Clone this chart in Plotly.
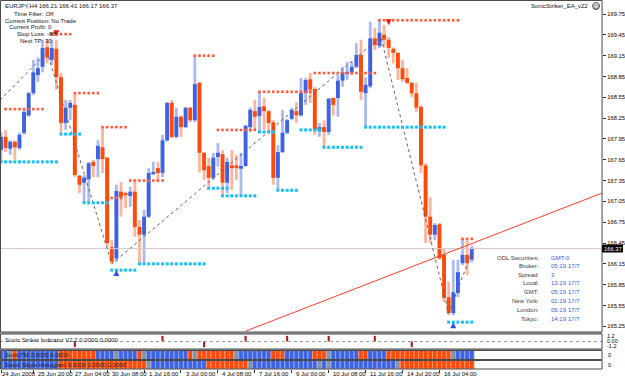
import plotly.graph_objects as go

# ---------------- data ----------------
opens = [167.79,167.98,167.81,167.91,167.82,168.04,168.29,168.61,168.87,168.99,
         169.27,169.09,169.25,168.84,168.18,168.40,168.44,167.42,167.32,167.37,
         167.62,167.66,167.83,167.68,166.39,166.23,167.19,167.17,167.13,167.19,
         166.68,166.57,166.83,167.45,167.53,167.46,167.93,168.47,167.98,168.27,
         168.12,168.40,168.22,168.76,167.75,167.56,167.39,167.69,167.73,167.32,
         167.57,167.57,167.52,167.56,168.12,168.35,168.28,168.42,168.35,168.19,
         167.39,167.76,168.04,168.24,168.35,168.29,168.61,168.81,168.67,168.06,
         168.12,168.05,168.54,168.54,168.79,168.90,168.91,168.99,169.16,168.61,
         168.71,169.40,169.29,169.45,169.38,169.25,169.19,168.97,168.83,168.76,
         168.61,168.41,167.57,166.83,166.57,166.72,166.28,165.67,165.44,165.73,
         166.16,166.28,166.21]
highs = [168.05,168.08,167.93,167.93,168.04,168.37,168.63,169.09,169.12,169.38,
         169.38,169.38,169.38,168.90,168.51,168.51,168.61,167.43,167.43,167.62,
         167.65,167.93,168.12,167.69,166.49,167.29,167.33,167.19,167.26,167.36,
         166.78,166.93,167.53,167.62,167.62,168.01,168.48,168.51,168.40,168.29,
         168.41,168.41,169.16,168.77,167.76,167.68,167.75,167.89,167.79,167.68,
         167.79,167.72,167.75,168.15,168.40,168.51,168.63,168.54,168.37,168.22,
         167.86,168.37,168.24,168.40,168.48,168.83,168.83,168.90,168.70,168.18,
         168.22,168.54,168.55,168.87,168.99,169.06,169.06,169.33,169.38,168.84,
         169.64,169.55,169.66,169.59,169.42,169.27,169.20,169.09,168.97,168.77,
         168.76,168.44,167.60,167.11,166.74,166.74,166.38,165.89,166.21,166.21,
         166.52,166.49,166.41]
lows = [167.62,167.76,167.72,167.65,167.79,168.01,168.27,168.58,168.77,168.91,
        169.04,169.02,168.66,168.04,168.08,168.22,167.40,167.17,167.03,167.03,
        167.40,167.40,167.46,166.39,166.15,166.18,166.83,166.95,166.97,166.54,
        166.16,166.16,166.81,167.43,167.33,167.40,167.91,167.96,167.96,167.98,
        168.11,168.19,168.19,167.47,167.36,167.26,167.36,167.55,167.13,167.17,
        167.21,167.36,167.13,167.55,168.05,168.08,168.05,168.08,168.06,167.29,
        167.21,167.75,168.02,168.22,168.18,168.27,168.44,168.47,168.01,167.98,
        167.83,168.01,168.29,168.27,168.70,168.80,168.87,168.97,168.51,168.12,
        168.68,169.23,169.26,169.27,169.12,169.04,168.80,168.77,168.74,168.55,
        168.34,167.46,166.45,166.45,166.49,166.21,165.60,165.41,165.41,165.67,
        166.13,165.99,166.17]
closes = [167.98,167.82,167.91,167.83,168.01,168.34,168.61,168.91,168.97,169.26,
          169.12,169.26,168.84,168.18,168.40,168.47,167.43,167.29,167.39,167.60,
          167.56,167.85,167.66,166.45,166.18,167.20,167.11,167.14,167.19,166.68,
          166.57,166.83,167.46,167.46,167.46,167.93,168.47,167.98,168.27,168.12,
          168.40,168.22,168.74,167.75,167.50,167.39,167.68,167.75,167.32,167.62,
          167.53,167.53,167.56,168.14,168.37,168.27,168.41,168.35,168.18,167.39,
          167.76,168.04,168.22,168.37,168.29,168.61,168.80,168.66,168.08,168.12,
          168.05,168.53,168.44,168.79,168.91,168.91,168.99,169.16,168.63,168.73,
          169.40,169.30,169.48,169.38,169.26,169.19,168.97,168.81,168.76,168.61,
          168.40,167.57,166.83,166.57,166.71,166.23,165.66,165.44,165.74,166.03,
          166.28,166.16,166.37]

# resistance (red dotted) and support (cyan dotted): start bar, end bar, price
res_start = [1, 11, 16, 22, 24, 28, 42, 47, 56, 68, 82, 100]
res_end   = [9, 15, 21, 27, 26, 35, 46, 55, 67, 81, 99, 102]
res_price = [168.38, 169.46, 168.61, 168.12, 167.10, 167.35, 169.15, 168.08, 168.63, 168.90, 169.66, 166.51]
sup_start = [0, 13, 18, 24, 30, 45, 48, 56, 60, 65, 70, 79, 97]
sup_end   = [12, 17, 23, 29, 44, 49, 55, 59, 64, 69, 78, 96, 102]
sup_price = [167.62, 168.02, 167.03, 166.06, 166.15, 167.24, 167.13, 168.05, 167.21, 168.08, 167.83, 168.12, 165.31]

zz_bars = [-0.2, 10, 24, 82.3, 97, 102]
zz_prices = [168.51, 169.20, 166.15, 169.42, 165.44, 166.31]
trend_bars = [53, 131]
trend_prices = [165.18, 167.19]
sell_bars, sell_prices = [12, 84], [169.43, 169.59]
buy_bars, buy_prices = [25, 98], [166.06, 165.31]
bid_price = 166.37

ind_bars = [16, 35, 44, 53, 62, 71, 81, 89]
ind_vals = [-1.2, 1.2, -1.2, 1.2, 1.2, 1.2, 1.2, -1.2]

tm_runs = [("B",2),("G",1),("O",1),("B",9),("O",8),("B",4),("G",1),("B",4),("O",1),("G",1),
           ("B",9),("O",1),("G",1),("O",8),("G",1),("B",7),("O",3),("B",6),("O",3),("G",1),
           ("B",6),("O",2),("B",4),("O",14),("G",1),("B",4)]
slope_runs = [("B",13),("O",19),("G",1),("B",12),("O",9),("G",1),("B",14),("G",1),("B",1),("G",1),
              ("B",14),("G",1),("O",16)]

y_ticks = [165.25, 165.55, 165.85, 166.15, 166.45, 166.75, 167.05, 167.35, 167.65, 167.95,
           168.25, 168.55, 168.85, 169.15, 169.45, 169.75]
x_tick_bars = [0, 7, 15, 23, 31, 39, 47, 55, 63, 71, 79, 87, 95]
x_tick_labels = ["24 Jun 2008", "25 Jun 20:00", "27 Jun 04:00", "30 Jun 08:00", "1 Jul 16:00",
                 "3 Jul 00:00", "4 Jul 08:00", "7 Jul 16:00", "9 Jul 00:00", "10 Jul 08:00",
                 "11 Jul 16:00", "14 Jul 20:00", "16 Jul 04:00"]

info_labels = ["ODL Securities:", "Broker:", "Spread:", "Local:", "GMT:", "New York:", "London:", "Tokyo:"]
info_times = ["GMT-0", "05:19", "3", "13:19", "05:19", "01:19", "06:19", "14:19"]
info_dates = ["", "17/7", "", "17/7", "17/7", "17/7", "17/7", "17/7"]
status_lines = ["EURJPY,H4 166.21 166.41 166.17 166.37", "Time Filter: Off",
                "Current Position: No Trade", "Current Profit: 0", "Stop Loss: -88", "Next TP: 30"]

# ---------------- layout helpers ----------------
W, H = 625, 379
PLOT_R = 604
def px(x): return x / W
def py(y): return 1 - y / H

FONT = "Liberation Sans, Arial, sans-serif"
BLUE, ORANGE, GRAY = "#3d63e4", "#ff4a0a", "#8494a8"
LBLUE, LORANGE = "#a9baf3", "#ffb39a"

n = len(opens)
idx = list(range(n))
X0 = -0.216
X1 = X0 + PLOT_R / 4.63

fig = go.Figure()

up = [c >= o for o, c in zip(opens, closes)]
fig.add_trace(go.Bar(x=idx, y=[h - l for h, l in zip(highs, lows)], base=lows, width=0.6,
                     marker=dict(color=[LBLUE if u else LORANGE for u in up], line=dict(width=0)),
                     hoverinfo="skip", yaxis="y"))
fig.add_trace(go.Bar(x=idx, y=[max(abs(c - o), 0.016) for o, c in zip(opens, closes)],
                     base=[min(o, c) for o, c in zip(opens, closes)], width=0.85,
                     marker=dict(color=[BLUE if u else ORANGE for u in up], line=dict(width=0)),
                     hoverinfo="skip", yaxis="y"))

fig.add_trace(go.Scatter(x=[X0, X1], y=[bid_price, bid_price], mode="lines",
                         line=dict(color="#dcc6c6", width=1), hoverinfo="skip"))
fig.add_trace(go.Scatter(x=trend_bars, y=trend_prices, mode="lines",
                         line=dict(color="#ff3a2a", width=1), hoverinfo="skip"))
fig.add_trace(go.Scatter(x=zz_bars, y=zz_prices, mode="lines",
                         line=dict(color="#606060", width=1, dash="dot"), hoverinfo="skip"))

rx, ry = [], []
for s, e, p in zip(res_start, res_end, res_price):
    for b in range(s, e + 1):
        rx.append(b); ry.append(p)
fig.add_trace(go.Scatter(x=rx, y=ry, mode="markers",
                         marker=dict(symbol="square", size=2.6, color="#ff5a3a", line=dict(width=0)),
                         hoverinfo="skip"))
sx, sy = [], []
for s, e, p in zip(sup_start, sup_end, sup_price):
    for b in range(s, e + 1):
        sx.append(b); sy.append(p)
fig.add_trace(go.Scatter(x=sx, y=sy, mode="markers",
                         marker=dict(symbol="square", size=3, color="#16c0f2", line=dict(width=0)),
                         hoverinfo="skip"))
fig.add_trace(go.Scatter(x=sell_bars, y=sell_prices, mode="markers",
                         marker=dict(symbol="arrow-down", size=6, color="#e8180c", line=dict(width=0)),
                         hoverinfo="skip"))
fig.add_trace(go.Scatter(x=buy_bars, y=buy_prices, mode="markers",
                         marker=dict(symbol="arrow-up", size=6, color="#2a55e8", line=dict(width=0)),
                         hoverinfo="skip"))

fig.add_trace(go.Scatter(x=[X0, X1], y=[0, 0], mode="lines", yaxis="y2",
                         line=dict(color="#9a9a9a", width=1, dash="dot"), hoverinfo="skip"))
fig.add_trace(go.Bar(x=ind_bars, y=ind_vals, width=0.45, yaxis="y2",
                     marker=dict(color="#b3161e", line=dict(width=0)), hoverinfo="skip"))

def expand(runs):
    out = []
    for code, k in runs:
        out += [code] * k
    return out[:n]
cmap = {"B": BLUE, "O": ORANGE, "G": GRAY}
lmap = {"B": "#9bb0f2", "O": "#ff9d7c", "G": "#b4bfcc"}
for runs, ax in ((tm_runs, "y3"), (slope_runs, "y4")):
    codes = expand(runs)
    fig.add_trace(go.Bar(x=list(range(len(codes))), y=[1] * len(codes), base=0, width=1, yaxis=ax,
                         marker=dict(color=[cmap[c] for c in codes],
                                     line=dict(color=[lmap[c] for c in codes], width=0.8)),
                         hoverinfo="skip"))

main_dom = [py(332), py(1)]
fig.update_layout(
    width=W, height=H, margin=dict(l=0, r=0, t=0, b=0),
    paper_bgcolor="white", plot_bgcolor="white", showlegend=False, barmode="overlay",
    font=dict(family=FONT, size=6, color="black"),
    xaxis=dict(domain=[0, px(PLOT_R)], range=[X0, X1], anchor="y4", showgrid=False,
               zeroline=False, showticklabels=False, ticks="outside", ticklen=3,
               tickcolor="#333", tickvals=x_tick_bars),
    yaxis=dict(domain=main_dom, range=[165.168, 169.938], side="right", anchor="x",
               showgrid=False, zeroline=False, tickvals=y_ticks,
               ticktext=["%.2f" % v for v in y_ticks], ticks="outside", ticklen=3,
               tickcolor="#333", tickfont=dict(size=5.8, family=FONT, color="black")),
    yaxis2=dict(domain=[py(349), py(334)], range=[-1.6, 1.6], anchor="x", showgrid=False,
                zeroline=False, showticklabels=False),
    yaxis3=dict(domain=[py(359.5), py(350.5)], range=[0, 1], anchor="x", showgrid=False,
                zeroline=False, showticklabels=False),
    yaxis4=dict(domain=[py(369), py(360.5)], range=[0, 1], anchor="x", showgrid=False,
                zeroline=False, showticklabels=False),
)

shapes = []
def rect(x0, y0, x1, y1, line="#4a4a4a", fill=None, lw=1):
    shapes.append(dict(type="rect", xref="paper", yref="paper", x0=px(x0), x1=px(x1),
                       y0=py(y1), y1=py(y0), line=dict(color=line, width=lw),
                       fillcolor=fill if fill else "rgba(0,0,0,0)", layer="above"))
rect(0, 332, PLOT_R, 334, line="#9a9a9a", fill="#a8a8a8", lw=0)
rect(0, 349, PLOT_R, 350.5, line="#9a9a9a", fill="#a0a0a0", lw=0)
rect(0, 359.5, PLOT_R, 360.5, line="#9a9a9a", fill="#a0a0a0", lw=0)
rect(0.5, 0.5, PLOT_R, 332)
rect(0.5, 334, PLOT_R, 349)
rect(0.5, 350.5, PLOT_R, 359.5)
rect(0.5, 360.5, PLOT_R, 369)
rect(604, 244.5, 625, 252.5, line="black", fill="black", lw=0)
# smiley icon (EA active)
shapes.append(dict(type="circle", xref="paper", yref="paper", x0=px(594.5), x1=px(601.5),
                   y0=py(9.5), y1=py(2.5), line=dict(color="#555", width=1), fillcolor="#e8e8e8"))
fig.update_layout(shapes=shapes)

ann = []
def text(x, y, s, color="black", size=6, anchor="left", fam=FONT):
    ann.append(dict(xref="paper", yref="paper", x=px(x), y=py(y), text=s, showarrow=False,
                    xanchor=anchor, yanchor="middle", font=dict(family=fam, size=size, color=color)))

status_x = [3, 12, 3, 7, 15, 18]
status_y = [6.5, 13.5, 20.5, 27.3, 34.2, 41]
for s, x, y in zip(status_lines, status_x, status_y):
    text(x, y, s, color="#111")
text(592, 6, "SonicStriker_EA_v22", color="#111", anchor="right")
text(598, 6.2, "☺", color="#444", size=6, anchor="center", fam="DejaVu Sans")

info_y = [258.3, 266.3, 274.6, 283.3, 292.2, 301.2, 310.2, 319.0]
for lab, t, d, y in zip(info_labels, info_times, info_dates, info_y):
    text(543, y, lab, color="#3a3a3a", anchor="right")
    text(551, y, t, color="#3459e8")
    if d:
        text(568, y, d, color="#3459e8")

text(614.5, 248.5, "%.2f" % bid_price, color="white", size=5.8, anchor="center")

text(3, 339.5, "Sonic Striker Indicator V2.2 0.0000 0.0000", color="#222")
text(3, 355, "SonicTM 2.0000 0.0000", color="#1a1a1a")
text(3, 364.8, "Sonic Slope Histogram 0.0000 2.0000 0.0000", color="#1a1a1a")
text(607, 336.3, "1.2", size=5.5)
text(607, 341.2, "0.00", size=5.5)
text(607, 346.0, "-1.2", size=5.5)
text(607.5, 355, "0", size=5.5)
text(607.5, 364.8, "0", size=5.5)

for b, lab in zip(x_tick_bars, x_tick_labels):
    ann.append(dict(xref="x", yref="paper", x=b + 0.55 if b else X0 + 0.1, y=py(373.5), text=lab,
                    showarrow=False, xanchor="left", yanchor="middle",
                    font=dict(family=FONT, size=6, color="black")))
fig.update_layout(annotations=ann)

fig.write_html("out.html")
